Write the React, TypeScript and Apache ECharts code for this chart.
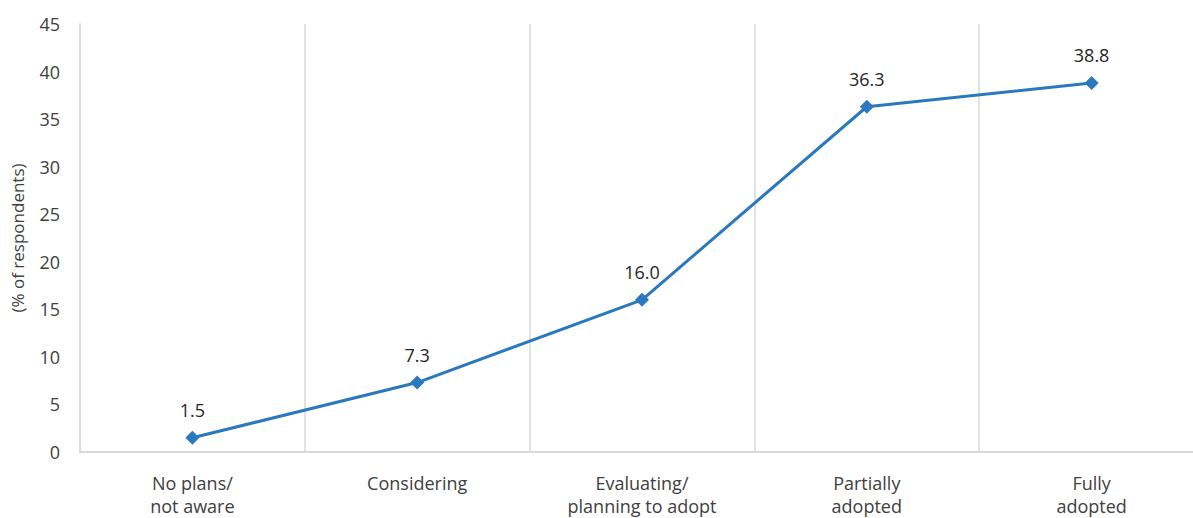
import React, { useEffect, useRef } from "react";
import * as echarts from "echarts";

const categories = ["No plans/\nnot aware", "Considering", "Evaluating/\nplanning to adopt", "Partially\nadopted", "Fully\nadopted"];
const values = [1.5, 7.3, 16.0, 36.3, 38.8];
const yAxisName = "(% of respondents)";

export default function App() {
  const ref = useRef<HTMLDivElement>(null);
  useEffect(() => {
    document.body.style.margin = "0";
    const chart = echarts.init(ref.current!, null, { renderer: "svg" });
    const font = "'Open Sans', sans-serif";
    chart.setOption({
      animation: false,
      grid: { left: 80, right: -11, top: 24, bottom: 66, outerBoundsMode: "none", containLabel: false },
      xAxis: {
        type: "category",
        data: categories,
        boundaryGap: true,
        axisLine: { show: true, lineStyle: { color: "#d9d9d9", width: 2 } },
        axisTick: { show: false },
        splitLine: { show: true, lineStyle: { color: "#d9d9d9", width: 1.5 } },
        axisLabel: { color: "#404040", fontSize: 18, fontFamily: font, lineHeight: 23, margin: 19 },
      },
      yAxis: {
        type: "value",
        min: 0,
        max: 45,
        interval: 5,
        name: yAxisName,
        nameLocation: "middle",
        nameGap: 54,
        nameRotate: 90,
        nameTextStyle: { color: "#404040", fontSize: 17, fontFamily: font },
        axisLine: { show: true, lineStyle: { color: "#d9d9d9", width: 2 } },
        axisTick: { show: false },
        splitLine: { show: false },
        axisLabel: { color: "#404040", fontSize: 18, fontFamily: font, margin: 20 },
      },
      series: [
        {
          type: "line",
          data: values,
          symbol: "diamond",
          symbolSize: 14,
          lineStyle: { color: "#2a78be", width: 3 },
          itemStyle: { color: "#2a78be" },
          label: {
            show: true,
            position: "top",
            distance: 12,
            color: "#262626",
            fontSize: 18,
            fontFamily: font,
            formatter: (p: any) => Number(p.value).toFixed(1),
          },
        },
      ],
    });
    return () => chart.dispose();
  }, []);
  return <div ref={ref} style={{ width: 1193, height: 518 }} />;
}
